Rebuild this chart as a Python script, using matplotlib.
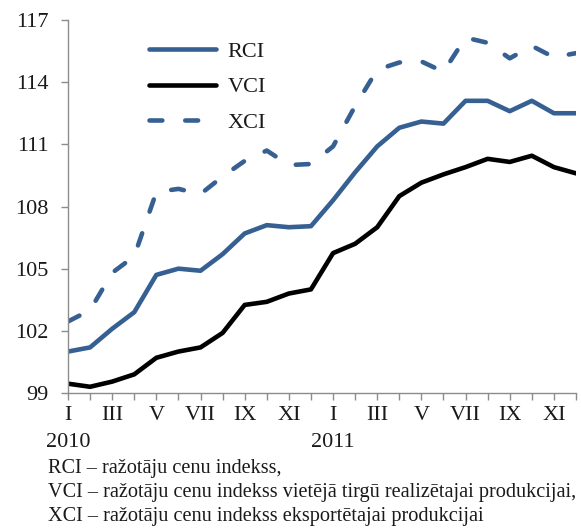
import matplotlib
matplotlib.use("Agg")
import matplotlib.pyplot as plt

plt.rcParams['font.family'] = ['Liberation Serif', 'DejaVu Serif']

# mēneši 2010-01 .. 2011-12
menesi = list(range(24))
romiesi = ["I", "III", "V", "VII", "IX", "XI"]
gadi = ["2010", "2011"]

rci = [101.0, 101.2, 102.1, 102.9, 104.7, 105.0, 104.9, 105.7, 106.7, 107.1, 107.0, 107.05,
       108.3, 109.65, 110.9, 111.8, 112.1, 112.0, 113.1, 113.1, 112.6, 113.1, 112.5, 112.5]
vci = [99.45, 99.3, 99.55, 99.9, 100.7, 101.0, 101.2, 101.9, 103.25, 103.4, 103.8, 104.0,
       105.75, 106.2, 107.0, 108.5, 109.15, 109.55, 109.9, 110.3, 110.15, 110.45, 109.9, 109.6]
xci = [102.45, 103.0, 104.8, 105.6, 108.7, 108.85, 108.6, 109.45, 110.2, 110.7, 110.0, 110.05,
       110.9, 112.85, 114.6, 114.95, 115.0, 114.5, 116.15, 115.9, 115.15, 115.75, 115.2, 115.4]

zils = "#376092"
peleks = "#8c8c8c"
teksts = "#1a1a1a"
lw = 3.3

fig = plt.figure(figsize=(5.81, 5.30), dpi=100)
ax = fig.add_axes([68 / 581, 1 - 393 / 530, (576 - 68) / 581, (393 - 20) / 530])

ax.plot(menesi, rci, color=zils, lw=lw, solid_capstyle="round", solid_joinstyle="round", label="RCI")
ax.plot(menesi, vci, color="black", lw=lw, solid_capstyle="round", solid_joinstyle="round", label="VCI")
ax.plot(menesi, xci, color=zils, lw=lw, dashes=(2.8, 5.0), dash_capstyle="round",
        dash_joinstyle="round", label="XCI")

ax.set_xlim(0, 23)
ax.set_ylim(99, 117)
ax.set_yticks(range(99, 118, 3))
ax.set_xticks(menesi)
ax.set_xticklabels([romiesi[i // 2 % 6] if i % 2 == 0 else "" for i in menesi])

for s in ["top", "right"]:
    ax.spines[s].set_visible(False)
for s in ["left", "bottom"]:
    ax.spines[s].set_color(peleks)
    ax.spines[s].set_linewidth(1.0)
ax.tick_params(axis="y", length=5, width=1, color=peleks, pad=9, labelsize=16)
ax.tick_params(axis="x", length=5, width=1, color=peleks, pad=4, labelsize=16)
for lbl in ax.get_yticklabels() + ax.get_xticklabels():
    lbl.set_color(teksts)

# gadu uzraksti zem janvāra
for j, g in enumerate(gadi):
    ax.text(j * 12, -0.133, g, transform=ax.get_xaxis_transform(), ha="center", va="center",
            fontsize=16, color=teksts)

leg = ax.legend(loc="upper left", bbox_to_anchor=(0.12, 0.997), frameon=False, fontsize=16,
                handlelength=3.0, handletextpad=0.55, labelspacing=0.68)
for t in leg.get_texts():
    t.set_color(teksts)

piezimes = [
    "RCI – ražotāju cenu indekss,",
    "VCI – ražotāju cenu indekss vietējā tirgū realizētajai produkcijai,",
    "XCI – ražotāju cenu indekss eksportētajai produkcijai",
]
for k, p in enumerate(piezimes):
    fig.text(48 / 581, 1 - (469 + k * 23.5) / 530, p, ha="left", va="center", fontsize=14.6,
             color=teksts)

fig.savefig("out.png", dpi=100)
